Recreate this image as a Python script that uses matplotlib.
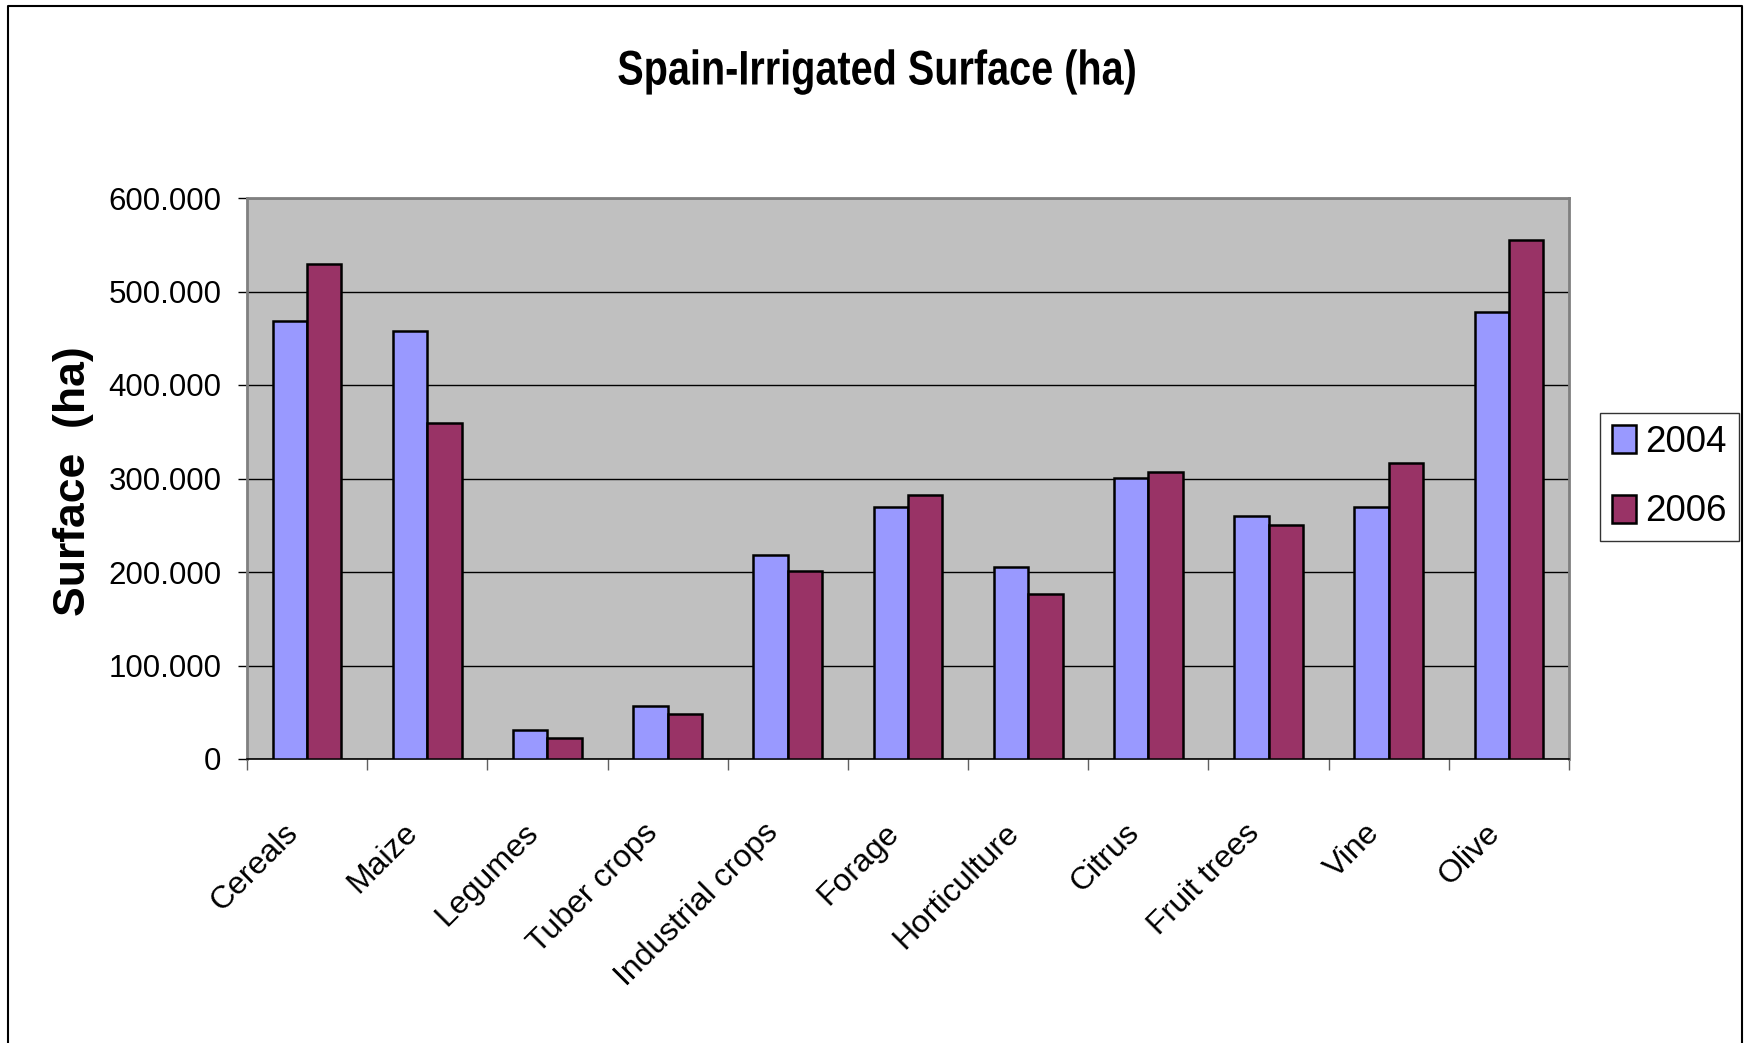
import numpy as np
import matplotlib
matplotlib.use("Agg")
import matplotlib.pyplot as plt
from matplotlib.lines import Line2D
from matplotlib.patheffects import AbstractPathEffect
from matplotlib.ticker import FuncFormatter, FixedLocator
from matplotlib.transforms import Affine2D, ScaledTranslation

crops = ["Cereals", "Maize", "Legumes", "Tuber crops", "Industrial crops", "Forage",
         "Horticulture", "Citrus", "Fruit trees", "Vine", "Olive"]
surface_2004 = [468000, 458000, 31500, 57000, 218000, 269000, 205000, 301000, 260000, 269000, 478000]
surface_2006 = [529000, 359000, 22000, 48000, 201500, 282000, 176000, 307000, 250000, 317000, 555000]
years = ["2004", "2006"]


class Squeeze(AbstractPathEffect):
    """Narrow the glyphs horizontally around a fixed x (display px)."""

    def __init__(self, sx, cx):
        super().__init__()
        self._sx = sx
        self._cx = cx

    def draw_path(self, renderer, gc, tpath, affine, rgbFace=None):
        squeeze = Affine2D().translate(-self._cx, 0).scale(self._sx, 1).translate(self._cx, 0)
        renderer.draw_path(gc, tpath, affine + squeeze, rgbFace)


plt.rcParams["font.family"] = ["Liberation Sans", "DejaVu Sans"]

W, H = 1747, 1043
fig = plt.figure(figsize=(W / 100, H / 100), dpi=100)
ax = fig.add_axes([247 / W, 1 - 759 / H, 1322 / W, 561 / H])
ax.set_facecolor("#C0C0C0")

x = np.arange(len(crops))
w = 1 / 3.5
ax.bar(x - w / 2, surface_2004, w, color="#9999FF", edgecolor="black", linewidth=1.8,
       label=years[0], zorder=3)
ax.bar(x + w / 2, surface_2006, w, color="#993366", edgecolor="black", linewidth=1.8,
       label=years[1], zorder=3)

ax.set_xlim(-0.5, len(crops) - 0.5)
ax.set_ylim(0, 600000)
ax.set_yticks(np.arange(0, 600001, 100000))
ax.yaxis.set_major_formatter(FuncFormatter(lambda v, _: f"{int(v):,}".replace(",", ".")))
ax.yaxis.grid(True, color="black", linewidth=1.0, zorder=1)
ax.set_axisbelow(True)
ax.tick_params(axis="y", length=6.5, width=1, color="black", pad=12, labelsize=22.5)

# ticks between groups, labels at group centres
ax.xaxis.set_major_locator(FixedLocator(np.arange(-0.5, len(crops), 1.0)))
ax.xaxis.set_major_formatter(FuncFormatter(lambda v, _: ""))
ax.xaxis.set_minor_locator(FixedLocator(x))
ax.set_xticklabels(crops, minor=True, rotation=45, ha="right", va="center",
                   rotation_mode="anchor", fontsize=23)
ax.tick_params(axis="x", which="major", length=8, width=1, color="#606060")
ax.tick_params(axis="x", which="minor", length=0, pad=50)
shift = ScaledTranslation(-0.14, 0, fig.dpi_scale_trans)
for lbl in ax.xaxis.get_minorticklabels():
    lbl.set_transform(lbl.get_transform() + shift)

for side in ["left", "top", "right"]:
    ax.spines[side].set_color("#808080")
    ax.spines[side].set_linewidth(2)
ax.spines["bottom"].set_color("black")
ax.spines["bottom"].set_linewidth(1.2)

ax.set_ylabel("Surface  (ha)", fontsize=32, fontweight="bold", va="center")
ax.yaxis.set_label_coords(-0.131, 0.495)

title_x = 877
fig.text(title_x / W, 1 - 72 / H, "Spain-Irrigated Surface (ha)", ha="center", va="center",
         fontsize=35, fontweight="bold", path_effects=[Squeeze(0.815, title_x)])

leg = ax.legend(loc="center left", bbox_to_anchor=(1600 / W, 1 - 477 / H),
                bbox_transform=fig.transFigure, frameon=True, fancybox=False,
                fontsize=26.5, handlelength=0.66, handleheight=0.78, handletextpad=0.25,
                labelspacing=0.95, borderpad=0.32, borderaxespad=0)
leg.get_frame().set_edgecolor("black")
leg.get_frame().set_linewidth(1)

# chart border
fig.add_artist(Line2D([8 / W, 8 / W, 1742 / W, 1742 / W],
                      [0, 1 - 6 / H, 1 - 6 / H, 0],
                      transform=fig.transFigure, color="black", linewidth=1.5))

fig.savefig("out.png", dpi=100)
